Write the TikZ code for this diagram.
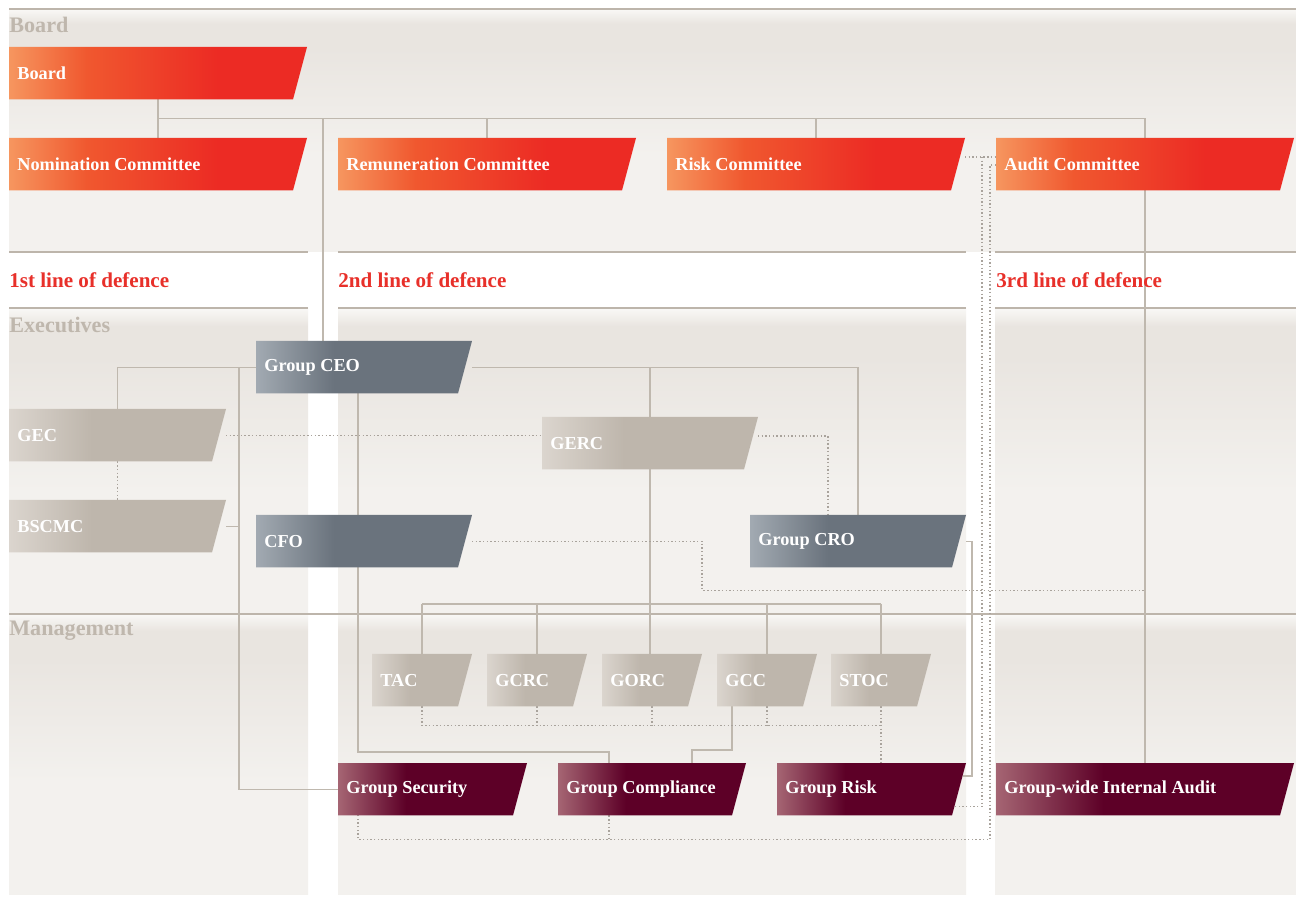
\documentclass[tikz,border=0pt]{standalone}
\usepackage{fontspec}
\setmainfont{Liberation Serif}
\usetikzlibrary{calc,positioning}
\definecolor{rcA}{HTML}{F6965F}
\definecolor{rcB}{HTML}{F0582F}
\definecolor{rcC}{HTML}{EC2B24}
\definecolor{slA}{HTML}{A2AAB2}
\definecolor{slB}{HTML}{6A737D}
\definecolor{bgA}{HTML}{DBD5CE}
\definecolor{bgB}{HTML}{BEB6AC}
\definecolor{mrA}{HTML}{A56573}
\definecolor{mrB}{HTML}{5D0027}
\definecolor{pTop}{HTML}{F9F8F6}
\definecolor{pMid}{HTML}{E9E5E0}
\definecolor{pLow}{HTML}{F3F1EE}
\definecolor{ruleline}{HTML}{BDB5AB}
\definecolor{wireline}{HTML}{BFB8AE}
\definecolor{dotline}{HTML}{A9A39C}
\definecolor{sectiongrey}{HTML}{BFB7AD}
\definecolor{defencered}{HTML}{E8302A}
\pgfdeclarehorizontalshading{redbox}{100bp}{color(0bp)=(rcA); color(25bp)=(rcA);
    color(38bp)=(rcB); color(60bp)=(rcC); color(100bp)=(rcC)}
\pgfdeclarehorizontalshading{slatebox}{100bp}{color(0bp)=(slA); color(25bp)=(slA);
    color(43bp)=(slB); color(100bp)=(slB)}
\pgfdeclarehorizontalshading{beigebox}{100bp}{color(0bp)=(bgA); color(25bp)=(bgA);
    color(44bp)=(bgB); color(100bp)=(bgB)}
\pgfdeclarehorizontalshading{maroonbox}{100bp}{color(0bp)=(mrA); color(25bp)=(mrA);
    color(43bp)=(mrB); color(100bp)=(mrB)}
\pgfdeclareverticalshading{panelfade}{100bp}{color(0bp)=(pLow); color(25bp)=(pLow);
    color(45bp)=(pLow); color(67bp)=(pMid); color(72bp)=(pMid); color(75bp)=(pTop);
    color(100bp)=(pTop)}
\pgfdeclarelayer{panels}
\pgfdeclarelayer{wires}
\pgfsetlayers{panels,wires,main}
\tikzset{
    org chart/.style = {x=0.02cm, y=-0.02cm},
    rule/.style      = {draw=ruleline, line width=0.85pt},
    wire/.style      = {draw=wireline, line width=0.65pt},
    dots/.style      = {draw=dotline, line width=0.8pt,
                        dash pattern=on 0.8pt off 1.3pt},
    boxframe/.style  = {rectangle, inner sep=0pt, outer sep=0pt,
                        minimum height=1.05cm},
    boxlabel/.style  = {inner sep=0pt, text=white,
                        font=\fontsize{10.4}{12}\selectfont\bfseries},
    section/.style   = {inner sep=0pt, anchor=west, text=sectiongrey,
                        font=\fontsize{12.6}{14}\selectfont\bfseries},
    defence/.style   = {inner sep=0pt, anchor=west, text=defencered,
                        font=\fontsize{12}{14}\selectfont\bfseries}
}
\newcommand{\boxslant}{0.28cm}
\newcommand{\orgbox}[5]{%
    \node[boxframe, minimum width=#3*0.02cm, anchor=north west] (#1) at #2 {};
    \shade[shading=#4] (#1.north west) -- (#1.north east)
        -- ([xshift=-\boxslant]#1.south east) -- (#1.south west) -- cycle;
    \node[boxlabel, right=0.16cm of #1.west] (#1-label) {#5};
}

\begin{document}
\begin{tikzpicture}[org chart]
\useasboundingbox (0,0) rectangle (1296,898);

% Background bands, one per line of defence.
\begin{pgfonlayer}{panels}
\fill[white] (0,0) rectangle (1296,898);
\shade[shading=panelfade] (9,9) rectangle (1296,252);
\foreach \l/\r in {9/308,338/966,995/1296}{
    \shade[shading=panelfade] (\l,308) rectangle (\r,614);
    \shade[shading=panelfade] (\l,614) rectangle (\r,894);
    \draw[rule] (\l,252) -- (\r,252);
    \draw[rule] (\l,308) -- (\r,308);
}
\draw[rule] (9,9) -- (1296,9);
\draw[rule] (9,614) -- (1296,614);
\end{pgfonlayer}

\node[section] (hboard) at (9,25) {Board};
\node[section] (hexec) at (9,325) {Executives};
\node[section] (hmgmt) at (9,631) {Management};
\node[defence] (line1) at (9,280) {1st line of defence};
\node[defence] (line2) at (338,280) {2nd line of defence};
\node[defence] (line3) at (996,280) {3rd line of defence};

% Board and committees.
\orgbox{board}{(9,47)}{298}{redbox}{Board}
\orgbox{nom}{(9,138)}{298}{redbox}{Nomination Committee}
\orgbox{rem}{(338,138)}{298}{redbox}{Remuneration Committee}
\orgbox{risk}{(667,138)}{298}{redbox}{Risk Committee}
\orgbox{audit}{(996,138)}{298}{redbox}{Audit Committee}

% Executives.
\orgbox{ceo}{(256,341)}{216}{slatebox}{Group CEO}
\orgbox{gec}{(9,409)}{217}{beigebox}{GEC}
\orgbox{bscmc}{(9,500)}{217}{beigebox}{BSCMC}
\orgbox{cfo}{(256,515)}{216}{slatebox}{CFO}
\orgbox{gerc}{(542,417)}{216}{beigebox}{GERC}
\orgbox{cro}{(750,515)}{216}{slatebox}{Group CRO}

% Management committees and functions.
\orgbox{tac}{(372,654)}{100}{beigebox}{TAC}
\orgbox{gcrc}{(487,654)}{100}{beigebox}{GCRC}
\orgbox{gorc}{(602,654)}{100}{beigebox}{GORC}
\orgbox{gcc}{(717,654)}{100}{beigebox}{GCC}
\orgbox{stoc}{(831,654)}{100}{beigebox}{STOC}
\orgbox{gsec}{(338,763)}{189}{maroonbox}{Group Security}
\orgbox{gcomp}{(558,763)}{188}{maroonbox}{Group Compliance}
\orgbox{grisk}{(777,763)}{189}{maroonbox}{Group Risk}
\orgbox{gia}{(996,763)}{298}{maroonbox}{Group-wide Internal Audit}

\begin{pgfonlayer}{wires}
% Reporting lines.
\coordinate (boardbus) at ($(board.south)!0.5!(nom.north)$);
\coordinate (ceoin) at ($(ceo.north west)+(67,0)$);
\draw[wire] (board.south) -- (nom.north);
\draw[wire] (boardbus) -| (audit.north);
\draw[wire] (boardbus -| rem.north) -- (rem.north);
\draw[wire] (boardbus -| risk.north) -- (risk.north);
\draw[wire] (boardbus -| ceoin) -- (ceoin);
\draw[wire] (audit.south) -- (gia.north);
\coordinate (spine) at ($(ceo.west)+(-17,0)$);
\draw[wire] (ceo.west) -| (gec.north);
\draw[wire] (spine) |- (gsec.west);
\draw[wire] (bscmc.east) -- (bscmc.east -| spine);
\draw[wire] ($(ceo.south west)+(102,0)$) |- ($(gcomp.north west)+(51,-11)$)
    -- ($(gcomp.north west)+(51,0)$);
\draw[wire] (ceo.east) -| (cro.north);
\draw[wire] (ceo.east -| gerc.north) -- (gerc.north);
\draw[wire] (gerc.south) -- (gerc.south |- gorc.north);
\coordinate (mgmtbus) at ($(gorc.north)+(0,-50)$);
\draw[wire] (tac.north |- mgmtbus) -- (stoc.north |- mgmtbus);
\foreach \n in {tac,gcrc,gcc,stoc}
    \draw[wire] (\n.north |- mgmtbus) -- (\n.north);
\draw[wire] ($(gcc.south west)+(15,0)$) |- ($(gcomp.north west)+(134,-13)$)
    -- ($(gcomp.north west)+(134,0)$);
\draw[wire] (cro.east) -- ++(6,0) |- ($(grisk.north east)+(-3,13)$);

% Dotted links.
\draw[dots] (gec.south) -- (bscmc.north);
\draw[dots] (gec.east) -- (gec.east -| gerc.west);
\draw[dots] ($(gerc.north east)+(0,19)$) -| ($(cro.north west)+(78,0)$);
\draw[dots] (cfo.east) -| ($(cfo.east)+(230,49)$) -- ($(cfo.east -| gia.north)+(0,49)$);
\draw[dots] ($(risk.north east)+(0,19)$) -- ($(audit.north west)+(0,19)$);
\draw[dots] ($(audit.north west)+(-14,19)$) |- ($(grisk.south east)+(-12,-9)$);
\draw[dots] ($(audit.north west)+(0,27)$) -- ++(-6,0)
    |- ($(gsec.south west)+(20,24)$) -- ($(gsec.south west)+(20,0)$);
\draw[dots] ($(gcomp.south west)+(51,0)$) -- ++(0,24);
\draw[dots] (tac.south) |- ($(stoc.south)+(0,19)$);
\foreach \n in {gcrc,gorc,gcc}
    \draw[dots] (\n.south) -- ++(0,19);
\draw[dots] (stoc.south) -- (stoc.south |- grisk.north);
\end{pgfonlayer}

\end{tikzpicture}
\end{document}
